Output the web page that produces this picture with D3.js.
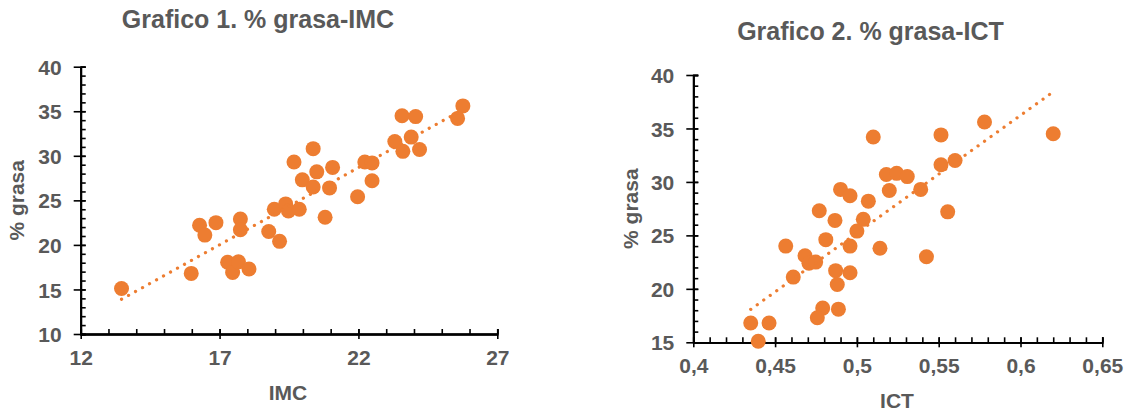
<!DOCTYPE html>
<html>
<head>
<meta charset="utf-8">
<script src="https://cdn.jsdelivr.net/npm/d3@7"></script>
<style>
  body { margin: 0; background: #fff; }
  svg text { font-family: "Liberation Sans", Arial, sans-serif; font-weight: bold; fill: #595959; }
</style>
</head>
<body>
<svg id="chart" width="1127" height="410"></svg>
<script>
// % grasa shared by both charts (one value per subject)
const grasaImc = [15.1, 16.8, 22.2, 21.1, 22.5, 18.05, 16.9, 18.1, 17.3, 22.9, 21.7, 21.5, 20.4,
  24.0, 24.6, 23.8, 24.0, 23.1, 25.4, 29.3, 27.3, 26.5, 30.8, 28.2, 26.4, 28.7, 29.3, 29.2, 27.2,
  31.6, 34.5, 30.5, 32.1, 34.4, 30.7, 34.2, 35.6];
const imc = [13.47, 15.98, 16.28, 16.47, 16.87, 17.29, 17.47, 17.68, 18.06, 17.75, 17.75, 18.77, 19.16,
  18.97, 19.38, 19.48, 19.87, 20.8, 21.97, 19.68, 19.98, 20.37, 20.37, 20.5, 20.96, 21.07, 22.23, 22.49, 22.49,
  23.31, 23.57, 23.6, 23.9, 24.06, 24.2, 25.57, 25.76];

const ict = [0.510, 0.5514, 0.578, 0.620, 0.560, 0.5514, 0.518, 0.5243, 0.5308, 0.5198, 0.539, 0.490, 0.4958,
  0.507, 0.477, 0.5555, 0.4866, 0.5039, 0.500, 0.481, 0.4565, 0.4958, 0.5141, 0.4683, 0.5425, 0.4707, 0.4748,
  0.4611, 0.487, 0.4958, 0.488, 0.4791, 0.4758, 0.4887, 0.4351, 0.4463, 0.4397];
const grasaIct = [34.2, 34.4, 35.6, 34.5, 32.0, 31.6, 30.7, 30.8, 30.5, 29.2, 29.3, 29.3, 28.7,
  28.2, 27.3, 27.2, 26.4, 26.5, 25.4, 24.6, 24.0, 24.0, 23.8, 23.1, 23.0, 22.4, 22.5,
  21.1, 21.7, 21.5, 20.4, 18.2, 17.3, 18.1, 16.8, 16.8, 15.1];

const xTicks1 = [12, 17, 22, 27];
const yTicks1 = [10, 15, 20, 25, 30, 35, 40];
const xTicks2 = [0.4, 0.45, 0.5, 0.55, 0.6, 0.65];
const yTicks2 = [15, 20, 25, 30, 35, 40];

const orange = '#ED7D31';
const svg = d3.select('#chart');

function drawScatter(cfg) {
  const xs = cfg.x, ys = cfg.y;
  const x = d3.scaleLinear().domain(d3.extent(cfg.xTicks)).range([cfg.left, cfg.right]);
  const y = d3.scaleLinear().domain(d3.extent(cfg.yTicks)).range([cfg.bottom, cfg.top]);
  const g = svg.append('g');
  const fmt = cfg.fmt || (d => d);

  // minor ticks (inside)
  g.append('g').attr('transform', `translate(${cfg.left},0)`)
    .call(d3.axisLeft(y).tickValues(cfg.yMinor).tickSize(-5).tickFormat(''));
  g.append('g').attr('transform', `translate(0,${cfg.bottom})`)
    .call(d3.axisBottom(x).tickValues(cfg.xMinor).tickSize(-5).tickFormat(''));
  // major ticks crossing the axis
  g.append('g').attr('transform', `translate(${cfg.left},0)`)
    .call(d3.axisLeft(y).tickValues(cfg.yTicks).tickSizeInner(-5).tickSizeOuter(0).tickFormat(''));
  const yAx = g.append('g').attr('transform', `translate(${cfg.left},0)`)
    .call(d3.axisLeft(y).tickValues(cfg.yTicks).tickSizeInner(7).tickSizeOuter(0).tickPadding(12));
  g.append('g').attr('transform', `translate(0,${cfg.bottom})`)
    .call(d3.axisBottom(x).tickValues(cfg.xTicks).tickSizeInner(-5).tickSizeOuter(0).tickFormat(''));
  const xAx = g.append('g').attr('transform', `translate(0,${cfg.bottom})`)
    .call(d3.axisBottom(x).tickValues(cfg.xTicks).tickSizeInner(5).tickSizeOuter(0).tickPadding(11).tickFormat(fmt));

  g.selectAll('.domain').attr('stroke', '#000').attr('stroke-width', 1.8);
  g.selectAll('.tick line').attr('stroke', '#000').attr('stroke-width', 1.6);
  g.selectAll('.tick text').style('font-size', '21px').attr('fill', '#595959');
  yAx.selectAll('.tick text').attr('dy', '0.36em');
  xAx.selectAll('.tick text').attr('dy', '0.72em');

  // points
  g.append('g').selectAll('circle')
    .data(xs.map((v, i) => [v, ys[i]]))
    .join('circle')
    .attr('cx', d => x(d[0]))
    .attr('cy', d => y(d[1]))
    .attr('r', 7.5)
    .attr('fill', orange);

  // linear trendline (least squares)
  const mx = d3.mean(xs), my = d3.mean(ys);
  const b = d3.sum(xs, (v, i) => (v - mx) * (ys[i] - my)) / d3.sum(xs, v => (v - mx) ** 2);
  const a = my - b * mx;
  const ext = d3.extent(xs);
  g.append('path')
    .datum(ext.map(v => [v, a + b * v]))
    .attr('fill', 'none')
    .attr('stroke', orange)
    .attr('stroke-width', 3.2)
    .attr('stroke-linecap', 'round')
    .attr('stroke-dasharray', '0.1 7.9')
    .attr('d', d3.line().x(d => x(d[0])).y(d => y(d[1])));

  // titles
  svg.append('text').attr('x', cfg.titleX).attr('y', cfg.titleY)
    .attr('text-anchor', 'middle').style('font-size', '25px').text(cfg.title);
  svg.append('text').attr('x', cfg.xLabelX).attr('y', cfg.xLabelY)
    .attr('text-anchor', 'middle').style('font-size', '21px').text(cfg.xLabel);
  svg.append('text')
    .attr('transform', `translate(${cfg.yLabelX},${(cfg.top + cfg.bottom) / 2}) rotate(-90)`)
    .attr('text-anchor', 'middle').style('font-size', '21px').text('% grasa');
}

drawScatter({
  x: imc, y: grasaImc, xTicks: xTicks1, yTicks: yTicks1,
  xMinor: d3.range(12, 28, 1), yMinor: d3.range(10, 41, 1),
  left: 80.7, right: 497.3, top: 66.7, bottom: 334,
  title: 'Grafico 1. % grasa-IMC', titleX: 258, titleY: 28,
  xLabel: 'IMC', xLabelX: 288, xLabelY: 399.5, yLabelX: 24
});

drawScatter({
  x: ict, y: grasaIct, xTicks: xTicks2, yTicks: yTicks2,
  xMinor: d3.range(0, 26).map(i => +(0.4 + i * 0.01).toFixed(2)), yMinor: d3.range(15, 41, 1),
  left: 693.3, right: 1102.3, top: 75, bottom: 342.3,
  fmt: d => String(d).replace('.', ','),
  title: 'Grafico 2. % grasa-ICT', titleX: 870.5, titleY: 39.5,
  xLabel: 'ICT', xLabelX: 897, xLabelY: 407.5, yLabelX: 638
});
</script>
</body>
</html>
